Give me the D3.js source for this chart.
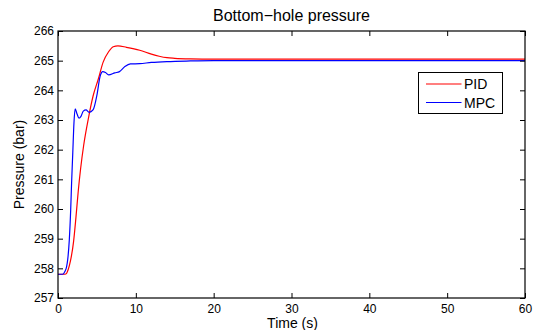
<!DOCTYPE html>
<html>
<head>
<meta charset="utf-8">
<script src="https://cdn.jsdelivr.net/npm/d3@7"></script>
<style>
  html, body { margin: 0; padding: 0; background: #fff; }
  svg { display: block; font-family: "Liberation Sans", Arial, Helvetica, sans-serif; }
</style>
</head>
<body>
<svg id="chart" width="538" height="330"></svg>
<script>
const title = "Bottom\u2212hole pressure";
const xLabel = "Time (s)";
const yLabel = "Pressure (bar)";
const xTicks = [0, 10, 20, 30, 40, 50, 60];
const yTicks = [257, 258, 259, 260, 261, 262, 263, 264, 265, 266];
const seriesNames = ["PID", "MPC"];
const seriesColors = ["#ff0000", "#0000ff"];

const pidTime = [0, 0.9, 1.1, 1.3, 1.6, 2.0, 2.3, 2.6, 2.9, 3.3, 3.9, 4.5, 5.2, 5.8, 6.5, 7.1, 7.7, 8.8, 10.5, 12, 13, 14, 15, 17, 20, 30, 60];
const pidValues = [257.8, 257.8, 257.83, 257.95, 258.25, 258.9, 259.7, 260.6, 261.35, 262.15, 263.05, 263.8, 264.4, 264.95, 265.3, 265.47, 265.5, 265.45, 265.35, 265.22, 265.15, 265.1, 265.08, 265.06, 265.05, 265.05, 265.05];

const mpcTime = [0, 0.6, 0.9, 1.1, 1.25, 1.45, 1.63, 1.75, 1.9, 2.05, 2.2, 2.45, 2.7, 2.95, 3.25, 3.6, 4.0, 4.5, 5.0, 5.4, 5.75, 6.1, 6.5, 7.3, 7.9, 8.6, 9.3, 10.5, 12, 14, 17, 20, 60];
const mpcValues = [257.8, 257.8, 257.9, 258.05, 258.3, 258.95, 259.97, 260.9, 261.9, 262.9, 263.38, 263.2, 263.06, 263.12, 263.3, 263.34, 263.26, 263.34, 263.84, 264.46, 264.63, 264.6, 264.52, 264.59, 264.63, 264.8, 264.89, 264.9, 264.94, 264.97, 264.99, 265.0, 265.0];

const svg = d3.select("#chart");
const m = { left: 58, right: 13, top: 31, bottom: 32 };
const W = 538, H = 330;
const x = d3.scaleLinear().domain([0, 60]).range([m.left, W - m.right]);
const y = d3.scaleLinear().domain([257, 266]).range([H - m.bottom, m.top]);

const plot = svg.append("g");

const series = [
  { name: seriesNames[0], color: seriesColors[0], t: pidTime, v: pidValues },
  { name: seriesNames[1], color: seriesColors[1], t: mpcTime, v: mpcValues }
];
const line = d3.line().x(d => x(d[0])).y(d => y(d[1])).curve(d3.curveMonotoneX);
plot.append("defs").append("clipPath").attr("id", "clip")
  .append("rect").attr("x", x(0)).attr("y", y(266)).attr("width", x(60) - x(0)).attr("height", y(257) - y(266));
series.forEach(s => {
  plot.append("path")
    .datum(s.t.map((t, i) => [t, s.v[i]]))
    .attr("d", line)
    .attr("fill", "none")
    .attr("stroke", s.color)
    .attr("stroke-width", 1.2)
    .attr("clip-path", "url(#clip)");
});

const tl = 5;
const axB = d3.axisBottom(x).tickValues(xTicks).tickSize(-tl).tickPadding(6).tickFormat(d3.format("d"));
const axT = d3.axisTop(x).tickValues(xTicks).tickSize(-tl).tickFormat("");
const axL = d3.axisLeft(y).tickValues(yTicks).tickSize(-tl).tickPadding(4).tickFormat(d3.format("d"));
const axR = d3.axisRight(y).tickValues(yTicks).tickSize(-tl).tickFormat("");

function styleAxis(g) {
  g.select(".domain").remove();
  g.selectAll(".tick line").attr("stroke", "#000").attr("stroke-width", 1);
  g.selectAll(".tick text").attr("fill", "#000").style("font-size", "12px").style("font-family", "Liberation Sans, Arial, sans-serif");
}
svg.append("g").attr("transform", `translate(0,${y(257)})`).call(axB).call(styleAxis);
svg.append("g").attr("transform", `translate(0,${y(266)})`).call(axT).call(styleAxis);
svg.append("g").attr("transform", `translate(${x(0)},0)`).call(axL).call(styleAxis);
svg.append("g").attr("transform", `translate(${x(60)},0)`).call(axR).call(styleAxis);

svg.append("rect")
  .attr("x", x(0)).attr("y", y(266))
  .attr("width", x(60) - x(0)).attr("height", y(257) - y(266))
  .attr("fill", "none").attr("stroke", "#000").attr("stroke-width", 1.2);

svg.append("text").attr("x", (x(0) + x(60)) / 2).attr("y", 21)
  .attr("text-anchor", "middle").style("font-size", "16px").attr("fill", "#000").text(title);
svg.append("text").attr("x", (x(0) + x(60)) / 2 + 1).attr("y", 328)
  .attr("text-anchor", "middle").style("font-size", "14px").attr("fill", "#000").text(xLabel);
svg.append("text").attr("transform", `translate(24,${(y(257) + y(266)) / 2}) rotate(-90)`)
  .attr("text-anchor", "middle").style("font-size", "14px").attr("fill", "#000").text(yLabel);

const lg = svg.append("g");
lg.append("rect").attr("x", 418.5).attr("y", 72.5).attr("width", 84).attr("height", 41)
  .attr("fill", "#fff").attr("stroke", "#000").attr("stroke-width", 1);
series.forEach((s, i) => {
  const ly = 84 + i * 18.5;
  lg.append("line").attr("x1", 426).attr("x2", 461.5).attr("y1", ly).attr("y2", ly)
    .attr("stroke", s.color).attr("stroke-width", 1.2);
  lg.append("text").attr("x", 464).attr("y", ly + 5).style("font-size", "14px").attr("fill", "#000").text(s.name);
});
</script>
</body>
</html>
